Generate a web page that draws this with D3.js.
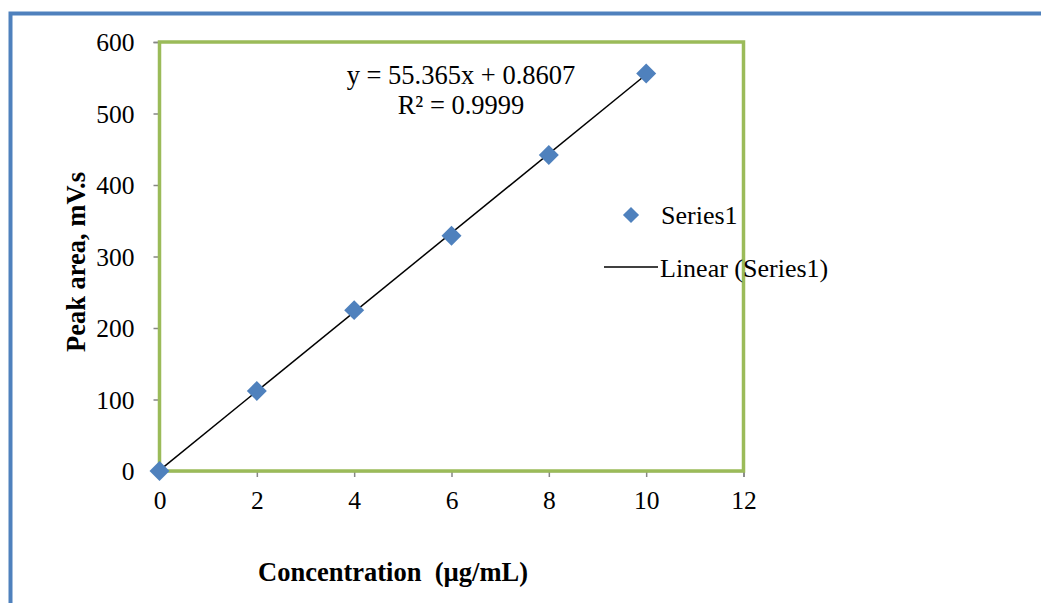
<!DOCTYPE html>
<html>
<head>
<meta charset="utf-8">
<script src="https://cdn.jsdelivr.net/npm/d3@7"></script>
<style>
  html, body { margin: 0; padding: 0; background: #fff; }
  svg { display: block; }
  text { font-family: "Liberation Serif", "Times New Roman", serif; fill: #000; }
</style>
</head>
<body>
<svg id="chart" width="1041" height="603"></svg>
<script>
// Calibration data: concentration vs. peak area
const concentrations = [0, 2, 4, 6, 8, 10];
const peakAreas = [0, 112, 225, 329, 442, 556];
const xTicks = [0, 2, 4, 6, 8, 10, 12];
const yTicks = [0, 100, 200, 300, 400, 500, 600];
const slope = 55.365;
const intercept = 0.8607;
const equationLines = ["y = 55.365x + 0.8607", "R\u00B2 = 0.9999"];
const legendLabels = ["Series1", "Linear (Series1)"];

const svg = d3.select("#chart");
const W = 1041, H = 603;

// page frame (top and left edges visible)
svg.append("rect")
  .attr("x", 10.5).attr("y", 13.5)
  .attr("width", W + 20).attr("height", H + 20)
  .attr("fill", "none").attr("stroke", "#4F81BD").attr("stroke-width", 4);

const plot = { left: 159.5, right: 743.5, top: 42, bottom: 471 };

const x = d3.scaleLinear().domain([0, 12]).range([plot.left, plot.right]);
const y = d3.scaleLinear().domain([0, 600]).range([plot.bottom, plot.top]);

// axes
const xAxis = svg.append("g")
  .attr("transform", `translate(0,${plot.bottom})`)
  .call(d3.axisBottom(x).tickValues(xTicks).tickSize(6).tickPadding(14).tickFormat(d3.format("d")));
const yAxis = svg.append("g")
  .attr("transform", `translate(${plot.left},0)`)
  .call(d3.axisLeft(y).tickValues(yTicks).tickSize(6).tickPadding(19).tickFormat(d3.format("d")));

[xAxis, yAxis].forEach(g => {
  g.select(".domain").attr("stroke", "#868686").attr("stroke-width", 1.5);
  g.selectAll(".tick line").attr("stroke", "#868686").attr("stroke-width", 1.5);
  g.selectAll(".tick text")
    .attr("font-family", "Liberation Serif, Times New Roman, serif")
    .attr("font-size", 25.5).attr("fill", "#000");
});
yAxis.selectAll(".tick text").attr("dy", "0.34em");

// plot area border
svg.append("rect")
  .attr("x", plot.left).attr("y", plot.top)
  .attr("width", plot.right - plot.left).attr("height", plot.bottom - plot.top)
  .attr("fill", "none").attr("stroke", "#9BBB59").attr("stroke-width", 3.5);

// linear trendline
const xMin = d3.min(concentrations), xMax = d3.max(concentrations);
svg.append("line")
  .attr("x1", x(xMin)).attr("y1", y(slope * xMin + intercept))
  .attr("x2", x(xMax)).attr("y2", y(slope * xMax + intercept))
  .attr("stroke", "#000").attr("stroke-width", 1.5);

// data markers
const diamond = d3.symbol().type(d3.symbolSquare).size(200);
svg.append("g").selectAll("path")
  .data(concentrations.map((c, i) => [c, peakAreas[i]]))
  .join("path")
  .attr("d", diamond)
  .attr("transform", d => `translate(${x(d[0])},${y(d[1])}) rotate(45)`)
  .attr("fill", "#4F81BD");

// equation label
svg.append("text")
  .attr("x", 461).attr("y", 84)
  .attr("text-anchor", "middle").attr("font-size", 26.5)
  .text(equationLines[0]);
svg.append("text")
  .attr("x", 461).attr("y", 114)
  .attr("text-anchor", "middle").attr("font-size", 26.5)
  .text(equationLines[1]);

// legend
const legend = svg.append("g");
legend.append("path")
  .attr("d", d3.symbol().type(d3.symbolSquare).size(130))
  .attr("transform", "translate(631,215) rotate(45)")
  .attr("fill", "#4F81BD");
legend.append("text").attr("x", 661).attr("y", 224).attr("font-size", 26).text(legendLabels[0]);
legend.append("line")
  .attr("x1", 604).attr("x2", 658).attr("y1", 267).attr("y2", 267)
  .attr("stroke", "#000").attr("stroke-width", 1.5);
legend.append("text").attr("x", 660).attr("y", 277).attr("font-size", 26).text(legendLabels[1]);

// axis titles
svg.append("text")
  .attr("x", 393).attr("y", 581)
  .attr("text-anchor", "middle").attr("font-size", 26.5).attr("font-weight", "bold")
  .attr("xml:space", "preserve")
  .text("Concentration  (\u00B5g/mL)");
svg.append("text")
  .attr("transform", "translate(85,262) rotate(-90)")
  .attr("text-anchor", "middle").attr("font-size", 26.5).attr("font-weight", "bold")
  .text("Peak area, mV.s");
</script>
</body>
</html>
